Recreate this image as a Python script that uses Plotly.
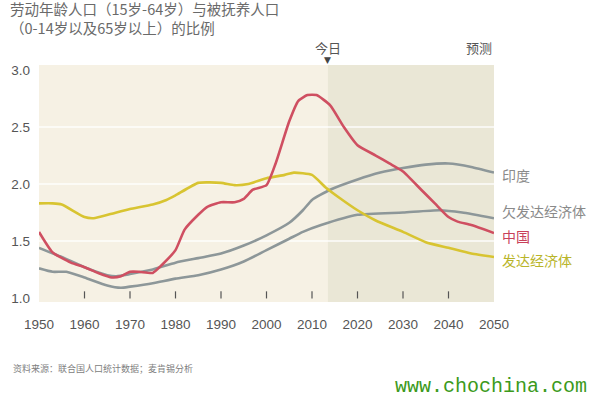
import plotly.graph_objects as go

# ---- data ----
china_years = [1950,1953,1957,1960,1963,1966,1968,1970,1972,1975,1977,1980,1982,1985,1987,1990,1993,1995,1997,2000,2002,2005,2007,2009,2011,2014,2017,2020,2024,2027,2030,2034,2037,2040,2042,2045,2050]
china_vals  = [1.58,1.40,1.31,1.27,1.22,1.18,1.19,1.23,1.23,1.22,1.29,1.42,1.60,1.73,1.80,1.84,1.84,1.87,1.95,1.99,2.18,2.55,2.73,2.78,2.78,2.69,2.50,2.34,2.25,2.18,2.11,1.95,1.83,1.71,1.67,1.64,1.57]

dev_years = [1950,1953,1955,1960,1962,1966,1970,1975,1978,1980,1985,1990,1993,1996,2000,2004,2006,2010,2013,2016,2020,2024,2030,2035,2040,2045,2050]
dev_vals  = [1.83,1.83,1.82,1.71,1.70,1.74,1.78,1.82,1.86,1.90,2.01,2.01,1.99,2.00,2.05,2.08,2.10,2.08,1.97,1.88,1.77,1.68,1.58,1.49,1.44,1.39,1.36]

india_years = [1950,1955,1960,1965,1967,1970,1975,1980,1985,1990,1995,2000,2005,2008,2010,2014,2020,2025,2030,2035,2040,2045,2050]
india_vals  = [1.44,1.36,1.27,1.20,1.19,1.21,1.25,1.31,1.35,1.39,1.46,1.55,1.66,1.77,1.86,1.95,2.04,2.10,2.14,2.17,2.18,2.15,2.10]

ldc_years = [1950,1953,1956,1960,1965,1968,1970,1975,1980,1985,1990,1995,2000,2005,2008,2012,2020,2030,2038,2043,2050]
ldc_vals  = [1.26,1.23,1.23,1.18,1.11,1.09,1.10,1.13,1.17,1.20,1.25,1.32,1.42,1.52,1.58,1.64,1.73,1.75,1.77,1.75,1.70]

x_ticks = [1950,1960,1970,1980,1990,2000,2010,2020,2030,2040,2050]
tick_marks = [1960,1970,1980,1990,2000,2010,2020,2030,2040]
y_ticks = [1.0,1.5,2.0,2.5,3.0]
grid_vals = [1.5,2.0,2.5]
today_year = 2013.5

title_lines = ["劳动年龄人口（15岁-64岁）与被抚养人口", "（0-14岁以及65岁以上）的比例"]
source_text = "资料来源：联合国人口统计数据；麦肯锡分析"
watermark = "www.chochina.com"

CJK = "Noto Sans CJK SC, Noto Sans, sans-serif"
RED = "#cf4f61"
YEL = "#d8c431"
GRY = "#8d9799"

fig = go.Figure()

def add_line(xs, ys, color, name):
    fig.add_trace(go.Scatter(x=xs, y=ys, mode="lines", name=name,
                             line=dict(color=color, width=2.6, shape="spline", smoothing=0.5),
                             hoverinfo="skip"))

add_line(india_years, india_vals, GRY, "印度")
add_line(ldc_years, ldc_vals, GRY, "欠发达经济体")
add_line(dev_years, dev_vals, YEL, "发达经济体")
add_line(china_years, china_vals, RED, "中国")

shapes = []
# forecast region
shapes.append(dict(type="rect", xref="x", yref="paper", x0=today_year, x1=2050, y0=0, y1=1,
                   fillcolor="#eae7d6", line=dict(width=0), layer="below"))
for g in grid_vals:
    shapes.append(dict(type="line", xref="paper", yref="y", x0=0, x1=1, y0=g, y1=g,
                       line=dict(color="rgba(255,255,255,0.9)", width=1.5), layer="below"))
for t in tick_marks:
    shapes.append(dict(type="line", xref="x", yref="paper", x0=t, x1=t, y0=0.015, y1=0.045,
                       line=dict(color="#555555", width=1.2)))

annotations = [
    dict(text="<br>".join(title_lines), xref="paper", yref="paper", x=-0.068, y=1.197,
         xanchor="left", yanchor="middle", align="left",
         showarrow=False, font=dict(family=CJK, size=14.5, color="#6a6a6a")),
    dict(text="今日", xref="x", yref="paper", x=today_year, y=1.072, xanchor="center", yanchor="middle",
         showarrow=False, font=dict(family=CJK, size=13, color="#555555")),
    dict(text="▼", xref="x", yref="paper", x=today_year, y=1.02, xanchor="center", yanchor="middle",
         showarrow=False, font=dict(family="DejaVu Sans", size=9, color="#444444")),
    dict(text="预测", xref="x", yref="paper", x=2050, y=1.072, xanchor="right", yanchor="middle",
         showarrow=False, font=dict(family=CJK, size=13, color="#555555")),
    dict(text="印度", xref="paper", yref="y", x=1.013, y=india_vals[-1] - 0.025, xanchor="left", yanchor="middle",
         showarrow=False, font=dict(family=CJK, size=14, color="#8a8a8a")),
    dict(text="欠发达经济体", xref="paper", yref="y", x=1.013, y=ldc_vals[-1] + 0.06, xanchor="left", yanchor="middle",
         showarrow=False, font=dict(family=CJK, size=14, color="#8a8a8a")),
    dict(text="中国", xref="paper", yref="y", x=1.013, y=china_vals[-1] - 0.03, xanchor="left", yanchor="middle",
         showarrow=False, font=dict(family=CJK, size=14, color="#c8405a")),
    dict(text="发达经济体", xref="paper", yref="y", x=1.013, y=dev_vals[-1] - 0.03, xanchor="left", yanchor="middle",
         showarrow=False, font=dict(family=CJK, size=14, color="#b9b52a")),
    dict(text=source_text, xref="paper", yref="paper", x=-0.062, y=-0.28, xanchor="left", yanchor="middle",
         showarrow=False, font=dict(family=CJK, size=9, color="#808080")),
    dict(text=watermark, xref="paper", yref="paper", x=1.208, y=-0.355, xanchor="right", yanchor="middle",
         showarrow=False, font=dict(family="Liberation Mono, DejaVu Sans Mono, monospace", size=20, color="#3c9a1c")),
]

fig.update_layout(
    width=595, height=397,
    margin=dict(l=39, r=101, t=65, b=95, autoexpand=False),
    paper_bgcolor="#ffffff",
    plot_bgcolor="#f6f1e4",
    showlegend=False,
    hovermode=False,
    shapes=shapes,
    annotations=annotations,
    xaxis=dict(range=[1950, 2050], tickvals=x_ticks, ticktext=[str(v) for v in x_ticks],
               showgrid=False, zeroline=False, showline=False, ticks="", automargin=False,
               ticklabelstandoff=12,
               tickfont=dict(family="Liberation Sans, Arial, sans-serif", size=13.5, color="#555555")),
    yaxis=dict(range=[0.965, 3.044], tickvals=y_ticks, ticktext=[f"{v:.1f}" for v in y_ticks],
               showgrid=False, zeroline=False, showline=False, ticks="", automargin=False,
               ticklabelstandoff=8,
               tickfont=dict(family="Liberation Sans, Arial, sans-serif", size=13.5, color="#555555")),
)

# remove the page's default 8px body margin so the figure sits at the window's corner
fig.write_html("out.html",
               config={"displayModeBar": False, "staticPlot": True},
               post_script="document.body.style.margin='0';document.body.style.overflow='hidden';")
